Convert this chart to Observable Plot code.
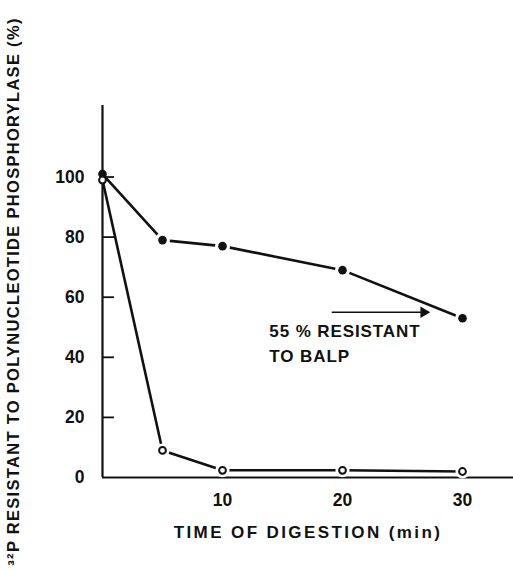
<!DOCTYPE html>
<html>
<head>
<meta charset="utf-8">
<script src="https://cdn.jsdelivr.net/npm/d3@7"></script>
<script src="https://cdn.jsdelivr.net/npm/@observablehq/plot@0.6"></script>
<style>
  html, body { margin: 0; padding: 0; background: #fff; }
  #chart svg { display: block; }
  #chart svg text { font-family: "Liberation Sans", Arial, sans-serif; font-weight: bold; }
  .xt text { letter-spacing: 2.4px; }
  .yt text { letter-spacing: 1.3px; }
  .note text { letter-spacing: 0.9px; }
</style>
</head>
<body>
<div id="chart"></div>
<script>
// Data
const time = [0, 5, 10, 20, 30];                 // min
const withoutBalp = [101, 79, 77, 69, 53];       // filled circles (%)
const withBalp = [99, 9, 2.4, 2.4, 2];           // open circles (%)
const yTicks = [0, 20, 40, 60, 80, 100];
const xTicks = [10, 20, 30];
const xTitle = "TIME OF DIGESTION (min)";
const yTitle = "³²P RESISTANT TO POLYNUCLEOTIDE PHOSPHORYLASE (%)";
const noteLines = ["55 % RESISTANT", "TO BALP"];
const noteX = 13.9;
const noteY = [46.6, 38.6];
const arrowLevel = 55;
const arrowFrom = 19.1, arrowTo = 27.1;

const filled = time.map((t, i) => ({t, v: withoutBalp[i]}));
const open = time.map((t, i) => ({t, v: withBalp[i]}));
const notes = noteLines.map((s, i) => ({s, x: noteX, y: noteY[i]}));
const ink = "#111";

const chart = Plot.plot({
  width: 513,
  height: 570,
  marginLeft: 102,
  marginRight: 0,
  marginTop: 105,
  marginBottom: 93,
  x: {domain: [0, 34.25], axis: null},
  y: {domain: [0, 123.8], axis: null},
  marks: [
    Plot.ruleX([0], {stroke: ink, strokeWidth: 2.2}),
    Plot.ruleY([0], {stroke: ink, strokeWidth: 2.2}),
    Plot.ruleY(yTicks.filter(d => d > 0), {x1: 0, x2: 1.0, stroke: ink, strokeWidth: 1.8}),
    Plot.axisY(yTicks, {tickSize: 0, tickPadding: 18, fontSize: 17.5, fill: ink}),
    Plot.axisX(xTicks, {tickSize: 0, tickPadding: 16, fontSize: 17.5, fill: ink}),
    Plot.line(filled, {x: "t", y: "v", stroke: ink, strokeWidth: 2.6}),
    Plot.line(open, {x: "t", y: "v", stroke: ink, strokeWidth: 2.6}),
    // white halos producing the gaps around markers
    Plot.dot(filled.filter(d => d.t > 0), {x: "t", y: "v", r: 7.5, fill: "white"}),
    Plot.dot(open.filter(d => d.t > 0), {x: "t", y: "v", r: 7, fill: "white"}),
    Plot.dot(filled, {x: "t", y: "v", r: 4.3, fill: ink}),
    Plot.dot(open, {x: "t", y: "v", r: 3.4, fill: "white", stroke: ink, strokeWidth: 2}),
    Plot.link([{x1: arrowFrom, x2: arrowTo, y: arrowLevel}], {
      x1: "x1", x2: "x2", y1: "y", y2: "y", stroke: ink, strokeWidth: 1.6
    }),
    Plot.dot([{x: arrowTo, y: arrowLevel}], {x: "x", y: "y", symbol: "triangle", rotate: 90, r: 4.2, fill: ink, dx: -4}),
    Plot.text(notes, {x: "x", y: "y", text: "s", textAnchor: "start", lineAnchor: "bottom", fontSize: 17, fill: ink, className: "note"}),
    Plot.text([xTitle], {frameAnchor: "bottom", dy: 55, lineAnchor: "middle", fontSize: 17, fill: ink, className: "xt"}),
    Plot.text([yTitle], {frameAnchor: "left", dx: -89, rotate: -90, textAnchor: "middle", lineAnchor: "middle", fontSize: 16.5, fill: ink, className: "yt"})
  ]
});
document.getElementById("chart").appendChild(chart);
</script>
</body>
</html>
